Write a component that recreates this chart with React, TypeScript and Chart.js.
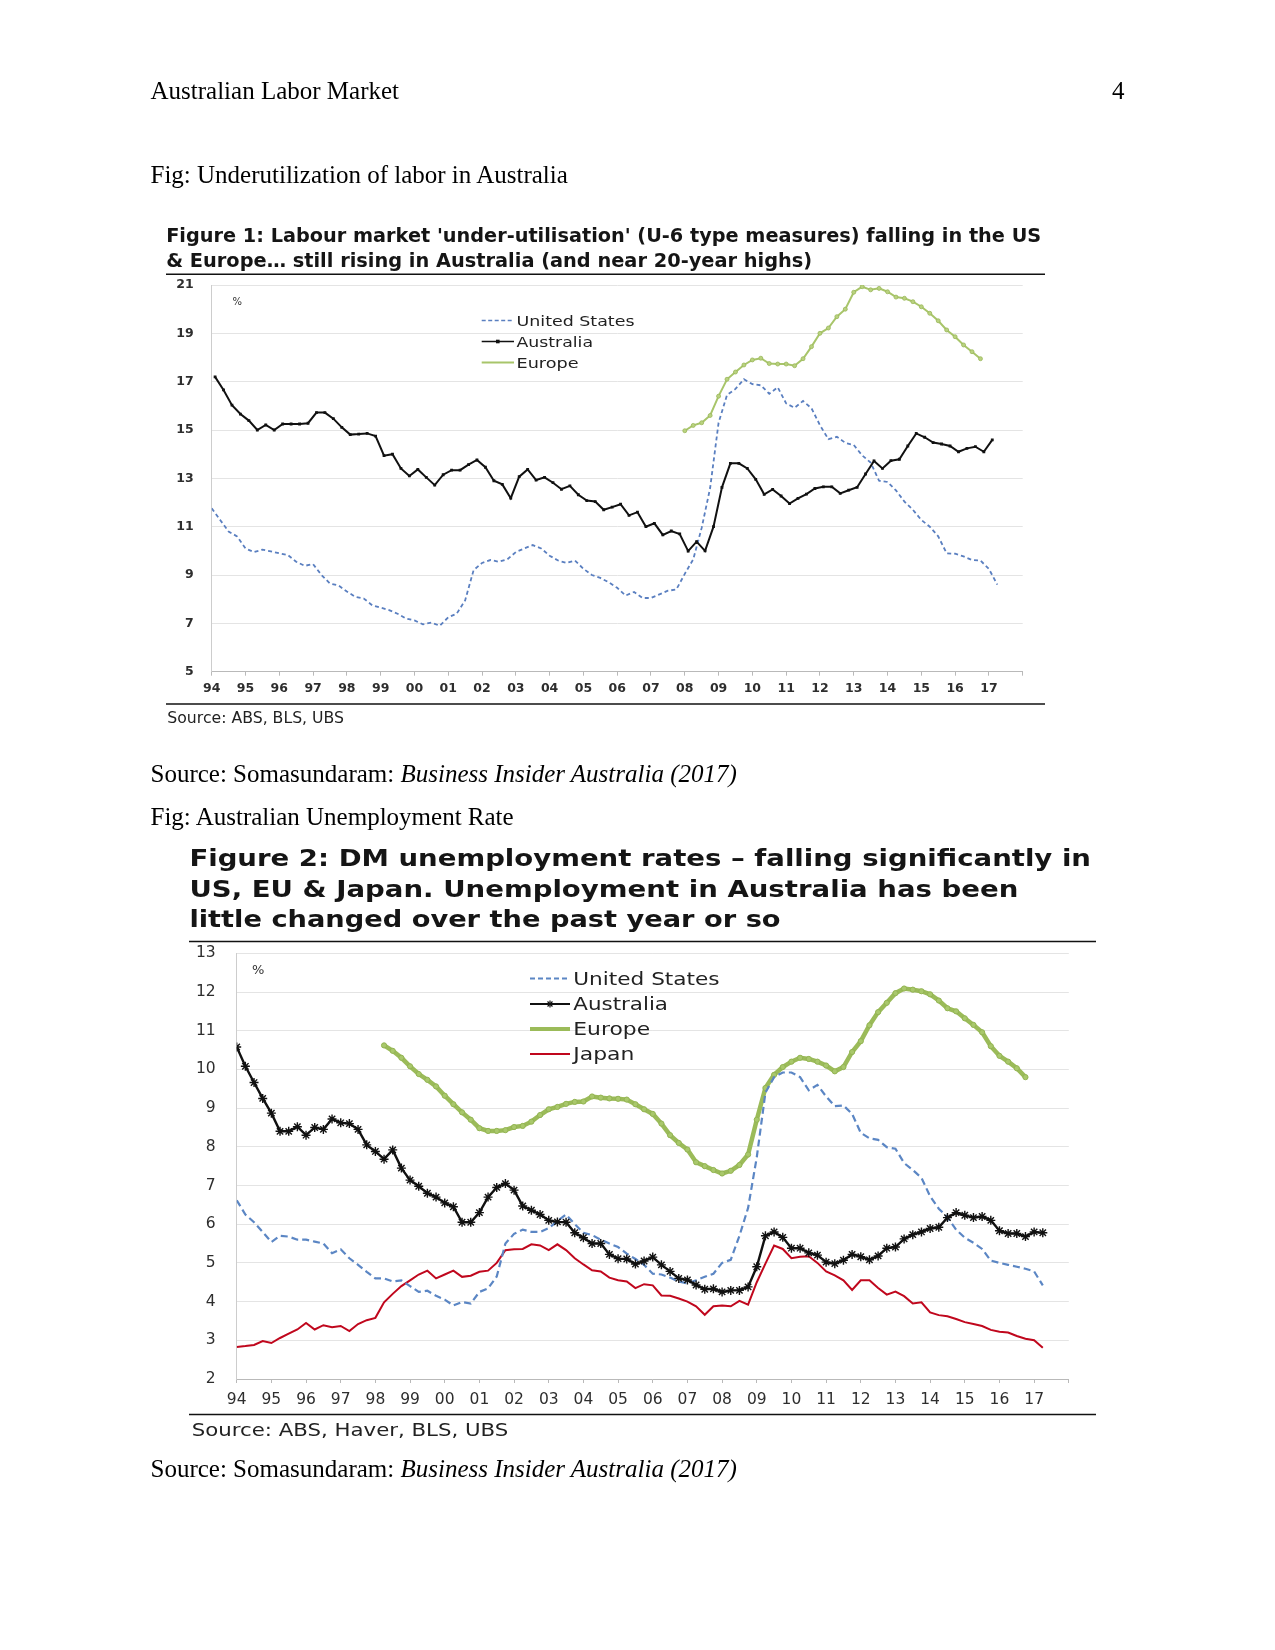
import React, { useEffect, useRef } from "react";
import { Chart, registerables } from "chart.js";

Chart.register(...registerables);

// ------------------------------------------------------------------ data
const QUARTER = 0.25;
const AXIS_START_YEAR = 1994;
const AXIS_END_YEAR = 2018;
const xTickLabels = [
  "94", "95", "96", "97", "98", "99", "00", "01", "02", "03", "04", "05",
  "06", "07", "08", "09", "10", "11", "12", "13", "14", "15", "16", "17",
];

// Figure 1: U-6 type under-utilisation measures (%), quarterly readings
const fig1UsStart = 1994.0;
const fig1UsU6 = [
  11.76, 11.28, 10.8, 10.6,
  10.1, 9.95, 10.05, 9.98,
  9.9, 9.83, 9.55, 9.38,
  9.45, 9.0, 8.65, 8.57,
  8.32, 8.1, 8.03, 7.75,
  7.65, 7.55, 7.4, 7.2,
  7.12, 6.96, 7.03, 6.9,
  7.25, 7.4, 7.95, 9.2,
  9.5, 9.62, 9.55, 9.65,
  9.95, 10.1, 10.24, 10.1,
  9.8, 9.6, 9.5, 9.6,
  9.26, 9.0, 8.88, 8.7,
  8.47, 8.15, 8.3, 8.05,
  8.05, 8.2, 8.35, 8.4,
  9.05, 9.65, 10.95, 12.6,
  15.3, 16.45, 16.7, 17.1,
  16.9, 16.85, 16.5, 16.77,
  16.1, 15.92, 16.2, 15.9,
  15.2, 14.62, 14.72, 14.47,
  14.38, 13.95, 13.65, 12.9,
  12.85, 12.5, 12.04, 11.7,
  11.28, 11.0, 10.6, 9.9,
  9.88, 9.77, 9.62, 9.6,
  9.25, 8.6,
];
const fig1AusStart = 1994.1;
const fig1AusU = [
  17.2, 16.66, 16.03, 15.66,
  15.39, 15.0, 15.21, 15.0,
  15.25, 15.25, 15.25, 15.28,
  15.72, 15.72, 15.47, 15.11,
  14.81, 14.83, 14.86, 14.75,
  13.94, 14.0, 13.41, 13.1,
  13.37, 13.04, 12.72, 13.15,
  13.34, 13.34, 13.57, 13.76,
  13.46, 12.9, 12.75, 12.18,
  13.07, 13.37, 12.93, 13.04,
  12.82, 12.55, 12.69, 12.32,
  12.08, 12.04, 11.7, 11.81,
  11.93, 11.47, 11.6, 11.0,
  11.14, 10.66, 10.82, 10.7,
  9.99, 10.38, 10.0, 11.0,
  12.63, 13.62, 13.62, 13.41,
  12.96, 12.34, 12.54, 12.27,
  11.96, 12.17, 12.35, 12.58,
  12.65, 12.65, 12.38, 12.51,
  12.63, 13.18, 13.72, 13.41,
  13.73, 13.79, 14.34, 14.86,
  14.7, 14.48, 14.42, 14.34,
  14.1, 14.24, 14.31, 14.1,
  14.59,
];
const fig1EuStart = 2008.0;
const fig1EuU = [
  14.97, 15.19, 15.3, 15.6,
  16.4, 17.1, 17.4, 17.69,
  17.9, 17.97, 17.75, 17.73,
  17.73, 17.66, 17.95, 18.45,
  19.0, 19.22, 19.69, 20.0,
  20.7, 20.93, 20.8, 20.86,
  20.72, 20.5, 20.45, 20.31,
  20.1, 19.83, 19.52, 19.14,
  18.86, 18.52, 18.24, 17.95,
];

// Figure 2: unemployment rates (%), quarterly readings
const fig2UsStart = 1994.0;
const fig2UsRate = [
  6.62, 6.25, 6.05, 5.8,
  5.54, 5.7, 5.68, 5.6,
  5.6, 5.55, 5.5, 5.25,
  5.35, 5.12, 4.95, 4.77,
  4.6, 4.6, 4.52, 4.55,
  4.4, 4.25, 4.28, 4.15,
  4.05, 3.9, 3.99, 3.95,
  4.25, 4.34, 4.65, 5.5,
  5.75, 5.86, 5.8, 5.8,
  5.9, 6.08, 6.25, 6.0,
  5.78, 5.72, 5.6, 5.5,
  5.41, 5.24, 5.1, 4.95,
  4.72, 4.7, 4.62, 4.52,
  4.47, 4.55, 4.64, 4.72,
  5.0, 5.08, 5.7, 6.42,
  7.73, 9.4, 9.8, 9.92,
  9.92, 9.8, 9.46, 9.6,
  9.3, 9.05, 9.07, 8.85,
  8.36, 8.22, 8.18, 7.99,
  7.95, 7.58, 7.4, 7.2,
  6.72, 6.4, 6.18, 5.86,
  5.65, 5.52, 5.36, 5.06,
  5.0, 4.95, 4.9, 4.85,
  4.78, 4.42,
];
const fig2AusStart = 1994.0;
const fig2AusRate = [
  10.58, 10.08, 9.66, 9.25,
  8.87, 8.4, 8.4, 8.52,
  8.3, 8.5, 8.45, 8.72,
  8.62, 8.6, 8.45, 8.05,
  7.88, 7.68, 7.92, 7.45,
  7.14, 6.98, 6.8, 6.7,
  6.55, 6.45, 6.05, 6.05,
  6.3, 6.7, 6.95, 7.05,
  6.88, 6.47, 6.36, 6.25,
  6.1, 6.06, 6.05, 5.78,
  5.65, 5.5, 5.5, 5.22,
  5.11, 5.1, 4.97, 5.05,
  5.15, 4.95, 4.78, 4.6,
  4.56, 4.43, 4.32, 4.33,
  4.25, 4.29, 4.29, 4.38,
  4.9, 5.7, 5.8, 5.66,
  5.38, 5.38, 5.26, 5.2,
  5.02, 4.98, 5.07, 5.22,
  5.16, 5.08, 5.18, 5.38,
  5.41, 5.62, 5.73, 5.8,
  5.89, 5.92, 6.17, 6.3,
  6.23, 6.17, 6.2, 6.1,
  5.83, 5.76, 5.76, 5.68,
  5.8, 5.78,
];
const fig2EuStart = 1998.25;
const fig2EuRate = [
  10.62, 10.48, 10.3,
  10.08, 9.88, 9.73, 9.56,
  9.32, 9.1, 8.89, 8.7,
  8.48, 8.41, 8.41, 8.43,
  8.51, 8.54, 8.65, 8.82,
  8.97, 9.03, 9.11, 9.16,
  9.17, 9.3, 9.27, 9.25,
  9.24, 9.22, 9.1, 8.97,
  8.85, 8.6, 8.3, 8.1,
  7.93, 7.6, 7.5, 7.4,
  7.31, 7.38, 7.53, 7.8,
  8.7, 9.52, 9.86, 10.06,
  10.2, 10.3, 10.27, 10.2,
  10.1, 9.95, 10.06, 10.45,
  10.73, 11.14, 11.48, 11.72,
  11.97, 12.09, 12.06, 12.02,
  11.94, 11.78, 11.58, 11.5,
  11.32, 11.15, 10.96, 10.6,
  10.35, 10.2, 10.03, 9.8,
];
const fig2JpStart = 1994.0;
const fig2JpRate = [
  2.83, 2.85, 2.88, 2.98,
  2.93, 3.06, 3.17, 3.28,
  3.45, 3.28, 3.39, 3.34,
  3.37, 3.24, 3.42, 3.52,
  3.58, 3.98, 4.2, 4.4,
  4.55, 4.7, 4.8, 4.6,
  4.7, 4.8, 4.64, 4.67,
  4.77, 4.8, 5.0, 5.33,
  5.35, 5.36, 5.48, 5.45,
  5.33, 5.48, 5.33, 5.12,
  4.96, 4.81, 4.78, 4.62,
  4.55, 4.52, 4.35, 4.45,
  4.42, 4.16, 4.15, 4.08,
  4.0, 3.88, 3.66, 3.88,
  3.9, 3.88, 4.02, 3.92,
  4.5, 4.98, 5.45, 5.36,
  5.12, 5.16, 5.17, 5.0,
  4.78, 4.68, 4.55, 4.3,
  4.55, 4.55, 4.35, 4.18,
  4.26, 4.14, 3.95, 3.98,
  3.72, 3.65, 3.62, 3.55,
  3.47, 3.42, 3.37, 3.27,
  3.22, 3.2, 3.11, 3.04,
  3.0, 2.81,
];

const fig1Legend = ["United States", "Australia", "Europe"];
const fig2Legend = ["United States", "Australia", "Europe", "Japan"];

// ------------------------------------------------------------------ helpers
const toPoints = (start: number, values: number[]) =>
  values.map((v, i) => ({ x: start + i * QUARTER, y: v }));

const COLORS = {
  us1: "#5a7fc0",
  us2: "#5b86c4",
  aus: "#111111",
  eu1: "#a8c56a",
  eu2: "#9bbb59",
  jp: "#c0071d",
};

type Box = { left: number; top: number; width: number; height: number };

function makeScales(o: {
  yMin: number; yMax: number; yStep: number;
  yAxisWidth: number; xAxisHeight: number;
  tickFont: any; yPad: number; xPad: number;
}) {
  return {
    x: {
      type: "linear",
      min: AXIS_START_YEAR,
      max: AXIS_END_YEAR,
      ticks: {
        stepSize: 1,
        autoSkip: false,
        maxRotation: 0,
        minRotation: 0,
        maxTicksLimit: 100,
        padding: o.xPad,
        font: o.tickFont,
        color: "#2e2e2e",
        callback: (v: any) => xTickLabels[Math.round(Number(v)) - AXIS_START_YEAR] ?? "",
      },
      grid: { display: true, drawOnChartArea: false, drawTicks: true, tickLength: 4, color: "#b9b9b9", lineWidth: 1 },
      border: { display: true, color: "#b9b9b9", width: 1 },
      afterFit: (s: any) => { s.height = o.xAxisHeight; },
    },
    y: {
      min: o.yMin,
      max: o.yMax,
      ticks: { stepSize: o.yStep, maxTicksLimit: 100, padding: 0, font: o.tickFont, color: "#2e2e2e" },
      // the invisible tick marks set the gap between labels and the axis line
      grid: { color: "#e4e4e4", drawTicks: true, tickLength: o.yPad, tickColor: "rgba(0,0,0,0)", lineWidth: 1 },
      border: { display: true, color: "#cdcdcd", width: 1 },
      afterFit: (s: any) => { s.width = o.yAxisWidth; },
    },
  };
}

function LineChart({ box, build }: { box: Box; build: () => any }) {
  const ref = useRef<HTMLCanvasElement>(null);
  useEffect(() => {
    const chart = new Chart(ref.current as HTMLCanvasElement, build());
    return () => chart.destroy();
  }, []);
  return (
    <canvas
      ref={ref}
      width={box.width}
      height={box.height}
      style={{ position: "absolute", left: box.left, top: box.top, width: box.width, height: box.height }}
    />
  );
}

const baseOptions = (padding: any, scales: any) => ({
  animation: false,
  responsive: false,
  maintainAspectRatio: false,
  devicePixelRatio: 1,
  layout: { padding },
  plugins: { legend: { display: false }, tooltip: { enabled: false }, title: { display: false } },
  elements: { line: { tension: 0 } },
  scales,
});

const fig1Box: Box = { left: 166, top: 276, width: 879, height: 426 };
const fig2Box: Box = { left: 189, top: 943, width: 907, height: 470 };

function buildFig1() {
  return {
    type: "line",
    data: {
      datasets: [
        {
          label: fig1Legend[1],
          data: toPoints(fig1AusStart, fig1AusU),
          borderColor: COLORS.aus,
          borderWidth: 2,
          pointStyle: "rect",
          pointRadius: 2,
          pointBackgroundColor: COLORS.aus,
          pointBorderColor: COLORS.aus,
          pointBorderWidth: 0,
        },
        {
          label: fig1Legend[0],
          data: toPoints(fig1UsStart, fig1UsU6),
          borderColor: COLORS.us1,
          borderWidth: 1.8,
          borderDash: [4, 3],
          pointRadius: 0,
        },
        {
          label: fig1Legend[2],
          data: toPoints(fig1EuStart, fig1EuU),
          borderColor: COLORS.eu1,
          borderWidth: 2,
          pointStyle: "circle",
          pointRadius: 2,
          pointBackgroundColor: "#b9d27f",
          pointBorderColor: "#9ab85a",
          pointBorderWidth: 0.8,
        },
      ],
    },
    options: baseOptions(
      { top: 9, right: 22.3, bottom: 0, left: 0 },
      makeScales({
        yMin: 5, yMax: 21, yStep: 2,
        yAxisWidth: 45.7, xAxisHeight: 30.3,
        tickFont: { family: "'DejaVu Sans'", size: 12.5, weight: "bold" },
        yPad: 18, xPad: 6,
      })
    ),
  };
}

function buildFig2() {
  return {
    type: "line",
    data: {
      datasets: [
        {
          label: fig2Legend[1],
          data: toPoints(fig2AusStart, fig2AusRate),
          borderColor: COLORS.aus,
          borderWidth: 2.4,
          pointStyle: "star",
          pointRadius: 4.5,
          pointBorderColor: COLORS.aus,
          pointBackgroundColor: COLORS.aus,
          pointBorderWidth: 1.4,
        },
        {
          label: fig2Legend[0],
          data: toPoints(fig2UsStart, fig2UsRate),
          borderColor: COLORS.us2,
          borderWidth: 2.2,
          borderDash: [7, 4],
          pointRadius: 0,
        },
        {
          label: fig2Legend[3],
          data: toPoints(fig2JpStart, fig2JpRate),
          borderColor: COLORS.jp,
          borderWidth: 2,
          pointRadius: 0,
        },
        {
          label: fig2Legend[2],
          data: toPoints(fig2EuStart, fig2EuRate),
          borderColor: COLORS.eu2,
          borderWidth: 4.5,
          pointStyle: "circle",
          pointRadius: 2.6,
          pointBackgroundColor: "#a9c86b",
          pointBorderColor: "#93b453",
          pointBorderWidth: 1,
        },
      ],
    },
    options: baseOptions(
      { top: 10.3, right: 27.2, bottom: 0, left: 0 },
      makeScales({
        yMin: 2, yMax: 13, yStep: 1,
        yAxisWidth: 47.7, xAxisHeight: 34,
        tickFont: { family: "'DejaVu Sans'", size: 15.5 },
        yPad: 21, xPad: 7.5,
      })
    ),
  };
}

// ------------------------------------------------------------------ page text
const SERIF = "'Liberation Serif', 'Times New Roman', serif";
const SANS = "'DejaVu Sans', sans-serif";

function T(props: {
  x: number; y: number; size: number; family?: string; weight?: string | number;
  w?: number; anchor?: string; fill?: string; children: any;
}) {
  const extra: any = {};
  if (props.w) {
    extra.textLength = props.w;
    extra.lengthAdjust = "spacingAndGlyphs";
  }
  return (
    <text
      x={props.x}
      y={props.y}
      fontSize={props.size}
      fontFamily={props.family ?? SERIF}
      fontWeight={props.weight ?? "normal"}
      textAnchor={props.anchor ?? "start"}
      fill={props.fill ?? "#000"}
      {...extra}
    >
      {props.children}
    </text>
  );
}

function Star({ cx, cy, r }: { cx: number; cy: number; r: number }) {
  const d = r * 0.707;
  return (
    <g stroke={COLORS.aus} strokeWidth={1.2}>
      <line x1={cx - r} y1={cy} x2={cx + r} y2={cy} />
      <line x1={cx} y1={cy - r} x2={cx} y2={cy + r} />
      <line x1={cx - d} y1={cy - d} x2={cx + d} y2={cy + d} />
      <line x1={cx - d} y1={cy + d} x2={cx + d} y2={cy - d} />
    </g>
  );
}

function Overlay() {
  return (
    <svg
      width={1275}
      height={1650}
      style={{ position: "absolute", left: 0, top: 0, zIndex: 2, pointerEvents: "none" }}
    >
      {/* page header */}
      <T x={150.5} y={98.5} size={25}>Australian Labor Market</T>
      <T x={1124.6} y={98.5} size={25} anchor="end">4</T>
      <T x={150.5} y={183} size={25}>Fig: Underutilization of labor in Australia</T>

      {/* figure 1 frame */}
      <T x={166.2} y={242} size={19} family={SANS} weight="bold" w={875} fill="#151515">
        Figure 1: Labour market 'under-utilisation' (U-6 type measures) falling in the US
      </T>
      <T x={166.2} y={267} size={19} family={SANS} weight="bold" w={646} fill="#151515">
        &amp; Europe… still rising in Australia (and near 20-year highs)
      </T>
      <line x1={166} y1={274.2} x2={1045} y2={274.2} stroke="#111" strokeWidth={1.5} />
      <line x1={166} y1={704} x2={1045} y2={704} stroke="#111" strokeWidth={1.5} />
      <T x={167.3} y={723.3} size={15} family={SANS} w={176.7} fill="#222">Source:  ABS, BLS, UBS</T>
      <T x={237.3} y={305} size={10} family={SANS} anchor="middle" fill="#333">%</T>

      {/* figure 1 legend */}
      <line x1={481.7} y1={320.5} x2={514} y2={320.5} stroke={COLORS.us1} strokeWidth={1.6} strokeDasharray="4 2.5" />
      <line x1={481.7} y1={341.5} x2={514} y2={341.5} stroke={COLORS.aus} strokeWidth={1.6} />
      <rect x={496} y={339.7} width={3.6} height={3.6} fill={COLORS.aus} />
      <line x1={481.7} y1={362.5} x2={514} y2={362.5} stroke={COLORS.eu1} strokeWidth={2} />
      <T x={516.5} y={325.5} size={14} family={SANS} w={118} fill="#222">{fig1Legend[0]}</T>
      <T x={516.5} y={346.5} size={14} family={SANS} w={76.5} fill="#222">{fig1Legend[1]}</T>
      <T x={516.5} y={367.5} size={14} family={SANS} w={62} fill="#222">{fig1Legend[2]}</T>

      <T x={150.5} y={782} size={25}>
        Source: Somasundaram: <tspan fontStyle="italic">Business Insider Australia (2017)</tspan>
      </T>
      <T x={150.5} y={825} size={25}>Fig: Australian Unemployment Rate</T>

      {/* figure 2 frame */}
      <T x={189.4} y={866.3} size={22.5} family={SANS} weight="bold" w={901.6} fill="#151515">
        Figure 2: DM unemployment rates – falling significantly in
      </T>
      <T x={189.4} y={896.8} size={22.5} family={SANS} weight="bold" w={829} fill="#151515">
        US, EU &amp; Japan. Unemployment in Australia has been
      </T>
      <T x={189.4} y={927} size={22.5} family={SANS} weight="bold" w={591.2} fill="#151515">
        little changed over the past year or so
      </T>
      <line x1={189} y1={941.5} x2={1096} y2={941.5} stroke="#111" strokeWidth={1.5} />
      <line x1={189} y1={1414.5} x2={1096} y2={1414.5} stroke="#111" strokeWidth={1.5} />
      <T x={191.7} y={1436.3} size={17} family={SANS} w={316.6} fill="#222">Source:  ABS, Haver, BLS, UBS</T>
      <T x={258.3} y={973.5} size={13} family={SANS} anchor="middle" fill="#333">%</T>

      {/* figure 2 legend */}
      <line x1={530} y1={978.5} x2={570} y2={978.5} stroke={COLORS.us2} strokeWidth={2} strokeDasharray="5 3" />
      <line x1={530} y1={1004} x2={570} y2={1004} stroke={COLORS.aus} strokeWidth={2} />
      <Star cx={550} cy={1004} r={3.5} />
      <line x1={530} y1={1029} x2={570} y2={1029} stroke={COLORS.eu2} strokeWidth={4} />
      <line x1={530} y1={1054} x2={570} y2={1054} stroke={COLORS.jp} strokeWidth={2} />
      <T x={573.3} y={984.5} size={17} family={SANS} w={146.3} fill="#222">{fig2Legend[0]}</T>
      <T x={573.3} y={1010} size={17} family={SANS} w={94.7} fill="#222">{fig2Legend[1]}</T>
      <T x={573.3} y={1035} size={17} family={SANS} w={76.8} fill="#222">{fig2Legend[2]}</T>
      <T x={573.3} y={1060} size={17} family={SANS} w={61} fill="#222">{fig2Legend[3]}</T>

      <T x={150.5} y={1477} size={25}>
        Source: Somasundaram: <tspan fontStyle="italic">Business Insider Australia (2017)</tspan>
      </T>
    </svg>
  );
}

export default function App() {
  return (
    <div
      style={{
        position: "absolute",
        left: 0,
        top: 0,
        width: 1275,
        height: 1650,
        background: "#ffffff",
        overflow: "hidden",
      }}
    >
      <LineChart box={fig1Box} build={buildFig1} />
      <LineChart box={fig2Box} build={buildFig2} />
      <Overlay />
    </div>
  );
}
